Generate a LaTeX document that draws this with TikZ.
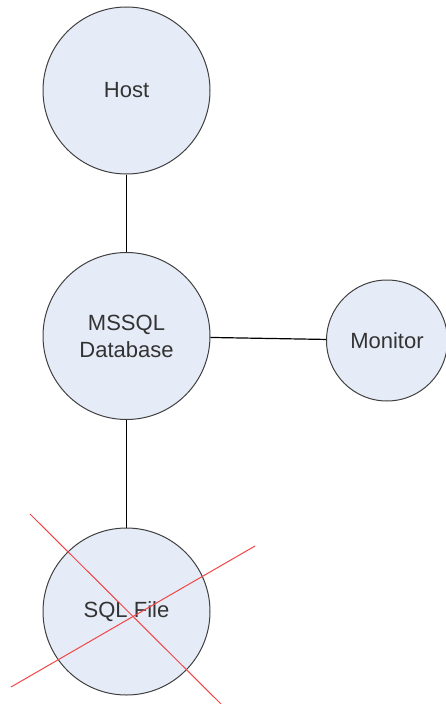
\documentclass[tikz,border=0pt]{standalone}
\usepackage{fontspec}
\setmainfont{Liberation Sans}
\usetikzlibrary{positioning}
\definecolor{NodeFill}{RGB}{230,236,247}
\definecolor{CrossRed}{RGB}{242,70,70}
\tikzset{font=\fontsize{22}{27}\selectfont}
\tikzset{EntityNode/.style={circle, draw=black!75, fill=NodeFill, text=black!80,
    line width=1pt, minimum size=167pt, inner sep=0pt, align=center}}
\tikzset{LinkLine/.style={draw=black, line width=1.2pt}}
\tikzset{StrikeLine/.style={draw=CrossRed, line width=1pt}}

\begin{document}
\begin{tikzpicture}[x=1pt,y=-1pt]
  \useasboundingbox (0,0) rectangle (446,704);
  \node[EntityNode] (host) at (126.5,90.5) {Host};
  \node[EntityNode] (db) at (126.5,336) {MSSQL\\Database};
  \node[EntityNode, minimum size=121pt] (monitor) at (387,340.5) {Monitor};
  \node[EntityNode] (sqlfile) at (126.5,611.5) {SQL File};
  \draw[LinkLine] (host) -- (db);
  \draw[LinkLine] (db) -- (monitor);
  \draw[LinkLine] (db) -- (sqlfile);
  % file is crossed out
  \draw[StrikeLine] (30,514) -- (221,704);
  \draw[StrikeLine] (255,546) -- (11,687);
\end{tikzpicture}
\end{document}
